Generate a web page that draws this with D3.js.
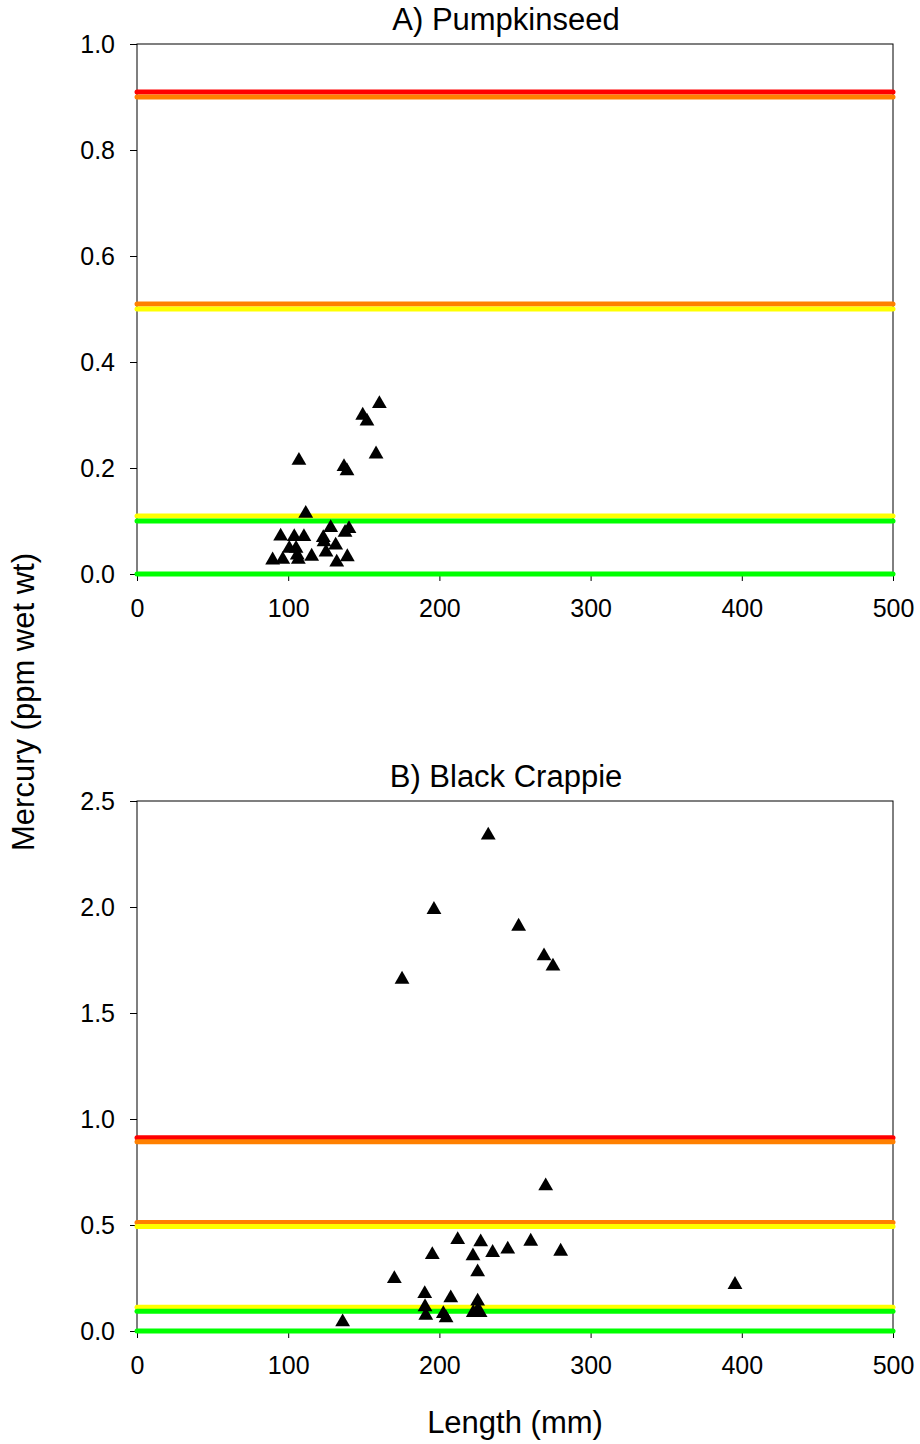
<!DOCTYPE html>
<html>
<head>
<meta charset="utf-8">
<script src="https://cdn.jsdelivr.net/npm/d3@7"></script>
<style>
  body { margin: 0; background: #fff; }
  text { font-family: "Liberation Sans", Arial, sans-serif; fill: #000; }
</style>
</head>
<body>
<script>
// fish data: length (mm) and mercury (ppm wet wt)
var pumpkinseedLength = [160.3, 149.3, 152.1, 158.1, 107.1, 136.9, 138.9, 111.6,
    128.1, 140.2, 137.6, 95.0, 104.0, 110.4, 123.2, 123.7, 131.4, 100.7, 105.2,
    125.0, 115.5, 106.0, 139.1, 89.7, 96.4, 106.7, 132.1];
var pumpkinseedHg = [0.325, 0.303, 0.292, 0.230, 0.218, 0.206, 0.198, 0.118,
    0.091, 0.089, 0.082, 0.075, 0.074, 0.074, 0.072, 0.064, 0.058, 0.052, 0.052,
    0.045, 0.037, 0.039, 0.036, 0.030, 0.031, 0.031, 0.026];

var crappieLength = [136.0, 170.2, 175.3, 190.3, 190.5, 191.0, 195.3, 196.4,
    202.6, 204.4, 207.5, 212.1, 222.2, 222.4, 225.3, 225.3, 225.3, 226.9, 227.3,
    232.3, 235.2, 245.2, 252.4, 260.4, 269.2, 270.3, 275.1, 280.2, 395.5];
var crappieHg = [0.052, 0.256, 1.668, 0.185, 0.123, 0.083, 0.369, 1.997,
    0.091, 0.071, 0.165, 0.440, 0.363, 0.096, 0.288, 0.150, 0.107, 0.096, 0.429,
    2.348, 0.379, 0.395, 1.918, 0.432, 1.778, 0.693, 1.730, 0.385, 0.228];

// advisory levels: each drawn as a colour pair
var levelValues = [0, 0.1, 0.5, 0.9];
var levelLower = ["#00ff00", "#00ff00", "#ffff00", "#ff8000"];
var levelUpper = [null, "#ffff00", "#ff8000", "#ff0000"];

var xTicks = [0, 100, 200, 300, 400, 500];
var yTicksA = [0, 0.2, 0.4, 0.6, 0.8, 1.0];
var yTicksB = [0, 0.5, 1.0, 1.5, 2.0, 2.5];

var width = 920, height = 1444;
var plotLeft = 137, plotRight = 893;

var svg = d3.select("body").append("svg")
    .attr("width", width)
    .attr("height", height);

// lowOff/upOff: pixel shift of the two coloured strokes of each level
var panels = [
    { title: "A) Pumpkinseed", top: 44, bottom: 574, ymax: 1.0, yTicks: yTicksA,
      xs: pumpkinseedLength, ys: pumpkinseedHg, titleY: 30, lowOff: 0, upOff: -5 },
    { title: "B) Black Crappie", top: 801, bottom: 1331, ymax: 2.5, yTicks: yTicksB,
      xs: crappieLength, ys: crappieHg, titleY: 787, lowOff: 1.5, upOff: -2.5 }
];

var tri = d3.symbol().type(d3.symbolTriangle).size(95);

panels.forEach(function (p) {
    var x = d3.scaleLinear().domain([0, 500]).range([plotLeft, plotRight]);
    var y = d3.scaleLinear().domain([0, p.ymax]).range([p.bottom, p.top]);

    var g = svg.append("g");

    // frame
    g.append("rect")
        .attr("x", plotLeft).attr("y", p.top)
        .attr("width", plotRight - plotLeft).attr("height", p.bottom - p.top)
        .attr("fill", "none").attr("stroke", "#000").attr("stroke-width", 1);

    var yAxis = d3.axisLeft(y).tickValues(p.yTicks).tickFormat(d3.format(".1f"))
        .tickSize(7).tickPadding(15);
    var xAxis = d3.axisBottom(x).tickValues(xTicks).tickFormat(d3.format("d"))
        .tickSize(7).tickPadding(18);

    var gy = g.append("g").attr("transform", "translate(" + plotLeft + ",0)").call(yAxis);
    var gx = g.append("g").attr("transform", "translate(0," + p.bottom + ")").call(xAxis);
    [gy, gx].forEach(function (a) {
        a.select(".domain").remove();
        a.selectAll("text").attr("font-size", 25).attr("font-family", null);
        a.selectAll("line").attr("stroke", "#000");
    });

    // advisory lines
    levelValues.forEach(function (v, i) {
        if (v > p.ymax) return;
        var off = v === 0 ? 0 : p.lowOff;
        if (levelUpper[i]) {
            g.append("line")
                .attr("x1", x(0)).attr("x2", x(500))
                .attr("y1", y(v) + p.upOff).attr("y2", y(v) + p.upOff)
                .attr("stroke", levelUpper[i]).attr("stroke-width", 5)
                .attr("stroke-linecap", "round");
        }
        g.append("line")
            .attr("x1", x(0)).attr("x2", x(500))
            .attr("y1", y(v) + off).attr("y2", y(v) + off)
            .attr("stroke", levelLower[i]).attr("stroke-width", 5)
            .attr("stroke-linecap", "round");
    });

    // fish
    g.selectAll(".pt")
        .data(p.xs.map(function (d, i) { return [d, p.ys[i]]; }))
        .enter().append("path")
        .attr("class", "pt")
        .attr("d", tri)
        .attr("transform", function (d) {
            return "translate(" + x(d[0]) + "," + (y(d[1]) + 2) + ")";
        })
        .attr("fill", "#000");

    g.append("text")
        .attr("x", 506).attr("y", p.titleY)
        .attr("text-anchor", "middle")
        .attr("font-size", 31)
        .text(p.title);
});

svg.append("text")
    .attr("transform", "translate(34,702) rotate(-90)")
    .attr("text-anchor", "middle")
    .attr("font-size", 31)
    .text("Mercury (ppm wet wt)");

svg.append("text")
    .attr("x", 515).attr("y", 1433)
    .attr("text-anchor", "middle")
    .attr("font-size", 31)
    .text("Length (mm)");
</script>
</body>
</html>
